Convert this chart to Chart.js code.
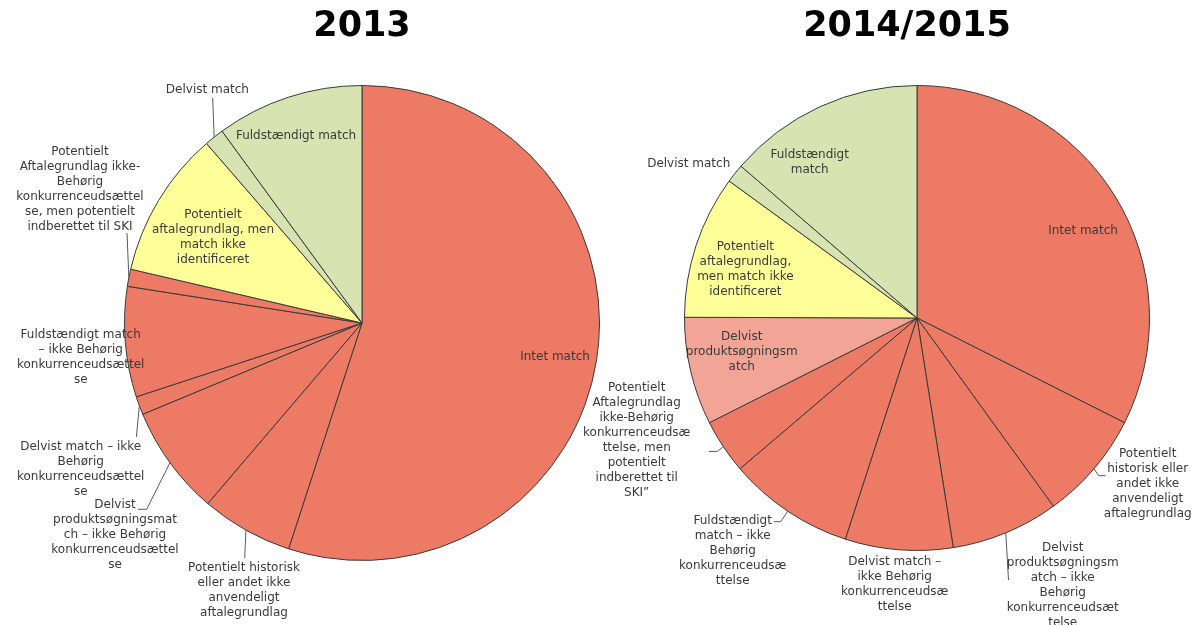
<!DOCTYPE html>
<html><head><meta charset="utf-8">
<script src="https://cdn.jsdelivr.net/npm/chart.js@4/dist/chart.umd.min.js"></script>
<style>
html,body{margin:0;padding:0;background:#fff;width:1194px;height:625px;overflow:hidden}
canvas{position:absolute;top:0}
</style></head><body>
<canvas id="c1" width="724" height="625" style="left:0px"></canvas>
<canvas id="c2" width="674" height="625" style="left:580px"></canvas>
<script>
// ---------- DATA ----------
const categories = [
  "Intet match",
  "Potentielt historisk eller andet ikke anvendeligt aftalegrundlag",
  "Delvist produktsøgningsmatch – ikke Behørig konkurrenceudsættelse",
  "Delvist match – ikke Behørig konkurrenceudsættelse",
  "Fuldstændigt match – ikke Behørig konkurrenceudsættelse",
  "Potentielt Aftalegrundlag ikke-Behørig konkurrenceudsættelse, men potentielt indberettet til SKI",
  "Delvist produktsøgningsmatch",
  "Potentielt aftalegrundlag, men match ikke identificeret",
  "Delvist match",
  "Fuldstændigt match"
];
const values2013 = [55.0, 6.25, 7.47, 1.25, 7.5, 1.17, 0, 10.0, 1.33, 10.03];
const values2015 = [32.5, 7.6, 7.5, 7.5, 8.8, 3.8, 7.5, 10.0, 1.3, 13.7];
const titles = ["2013", "2014/2015"];

// Display texts (as wrapped in the original)
const labels2013 = [
  "Intet match",
  "Potentielt historisk\neller andet ikke\nanvendeligt\naftalegrundlag",
  "Delvist\nproduktsøgningsmat\nch – ikke Behørig\nkonkurrenceudsættel\nse",
  "Delvist match – ikke\nBehørig\nkonkurrenceudsættel\nse",
  "Fuldstændigt match\n– ikke Behørig\nkonkurrenceudsættel\nse",
  "Potentielt\nAftalegrundlag ikke-\nBehørig\nkonkurrenceudsættel\nse, men potentielt\nindberettet til SKI",
  "",
  "Potentielt\naftalegrundlag, men\nmatch ikke\nidentificeret",
  "Delvist match",
  "Fuldstændigt match"
];
const labels2015 = [
  "Intet match",
  "Potentielt\nhistorisk eller\nandet ikke\nanvendeligt\naftalegrundlag",
  "Delvist\nproduktsøgningsm\natch – ikke\nBehørig\nkonkurrenceudsæt\ntelse",
  "Delvist match –\nikke Behørig\nkonkurrenceudsæ\nttelse",
  "Fuldstændigt\nmatch – ikke\nBehørig\nkonkurrenceudsæ\nttelse",
  "Potentielt\nAftalegrundlag\nikke-Behørig\nkonkurrenceudsæ\nttelse, men\npotentielt\nindberettet til\nSKI”",
  "Delvist\nproduktsøgningsm\natch",
  "Potentielt\naftalegrundlag,\nmen match ikke\nidentificeret",
  "Delvist match",
  "Fuldstændigt\nmatch"
];

// ---------- STYLE / PLACEMENT ----------
const sliceColors = ["#EC7A65","#EC7A65","#EC7A65","#EC7A65","#EC7A65","#EC7A65","#F2A596","#FFFF99","#D7E4B2","#D7E4B2"];

// label centre offsets relative to pie centre, leader points relative to pie centre (start = arc midpoint)
const place2013 = [
  {x:193, y:34},
  {x:-118, y:267.5, leader:[[-117.3,235]]},
  {x:-247, y:212, leader:[[-215.3,186.3],[-224,186.3]]},
  {x:-281.3, y:146.2, leader:[[-225.6,114]]},
  {x:-281.3, y:34.5},
  {x:-282, y:-134, leader:[[-235,-90]]},
  null,
  {x:-149, y:-86},
  {x:-154.6, y:-233, leader:[[-149.3,-225]]},
  {x:-66, y:-187}
];
const place2015 = [
  {x:166, y:-87.3},
  {x:230.7, y:166.2, leader:[[181.7,157.7],[188.7,157.7]]},
  {x:145.7, y:267.2, leader:[[91.5,262]]},
  {x:-22.3, y:266.7},
  {x:-184.3, y:232.7, leader:[[-136.3,203.7],[-143.3,203.7]]},
  {x:-280.3, y:122.7, leader:[[-199.6,133.4],[-208,133.4]]},
  {x:-175.3, y:33.4},
  {x:-171.6, y:-49.1},
  {x:-228.3, y:-154},
  {x:-107.3, y:-155.3}
];

const labelFont = '12px "DejaVu Sans", Verdana, sans-serif';
const titleFont = 'bold 35px "DejaVu Sans", Verdana, sans-serif';
const textColor = '#3a3a3a';
const lineH = 15;

const pieLabels = {
  id: 'pieLabels',
  afterDatasetsDraw(chart, args, opts) {
    const ctx = chart.ctx;
    const meta = chart.getDatasetMeta(0);
    const texts = opts.texts, place = opts.place;
    ctx.save();
    meta.data.forEach((arc, i) => {
      const p = place[i];
      if (!p || !texts[i]) return;
      const cx = arc.x, cy = arc.y;
      if (p.leader) {
        const mid = (arc.startAngle + arc.endAngle) / 2;
        const sx = cx + Math.cos(mid) * arc.outerRadius;
        const sy = cy + Math.sin(mid) * arc.outerRadius;
        ctx.beginPath();
        ctx.strokeStyle = '#595959';
        ctx.lineWidth = 1;
        ctx.moveTo(sx, sy);
        p.leader.forEach(pt => ctx.lineTo(cx + pt[0], cy + pt[1]));
        ctx.stroke();
      }
      const lines = texts[i].split('\n');
      ctx.font = labelFont;
      ctx.fillStyle = textColor;
      ctx.textAlign = 'center';
      ctx.textBaseline = 'middle';
      lines.forEach((ln, k) => {
        ctx.fillText(ln, cx + p.x, cy + p.y + (k - (lines.length - 1) / 2) * lineH);
      });
    });
    ctx.restore();
  }
};

const pieTitle = {
  id: 'pieTitle',
  afterDraw(chart, args, opts) {
    const ctx = chart.ctx;
    const a = chart.chartArea;
    ctx.save();
    ctx.font = titleFont;
    ctx.fillStyle = '#000';
    ctx.textAlign = 'center';
    ctx.textBaseline = 'middle';
    ctx.fillText(opts.text, (a.left + a.right) / 2 + opts.dx, opts.y);
    ctx.restore();
  }
};

function makePie(id, values, texts, place, title, pad, titleDx) {
  return new Chart(document.getElementById(id), {
    type: 'pie',
    data: {
      labels: categories,
      datasets: [{
        data: values,
        backgroundColor: sliceColors,
        borderColor: '#3a3a3a',
        borderWidth: 1
      }]
    },
    options: {
      responsive: false,
      animation: false,
      devicePixelRatio: 1,
      layout: { padding: pad },
      plugins: {
        legend: { display: false },
        tooltip: { enabled: false },
        pieLabels: { texts: texts, place: place },
        pieTitle: { text: title, y: 27, dx: titleDx }
      },
      events: []
    },
    plugins: [pieLabels, pieTitle]
  });
}

makePie('c1', values2013, labels2013, place2013, titles[0], {top:85, bottom:64, left:0, right:0}, 0);
makePie('c2', values2015, labels2015, place2015, titles[1], {top:85, bottom:74, left:0, right:0}, -10);
</script>
</body></html>
